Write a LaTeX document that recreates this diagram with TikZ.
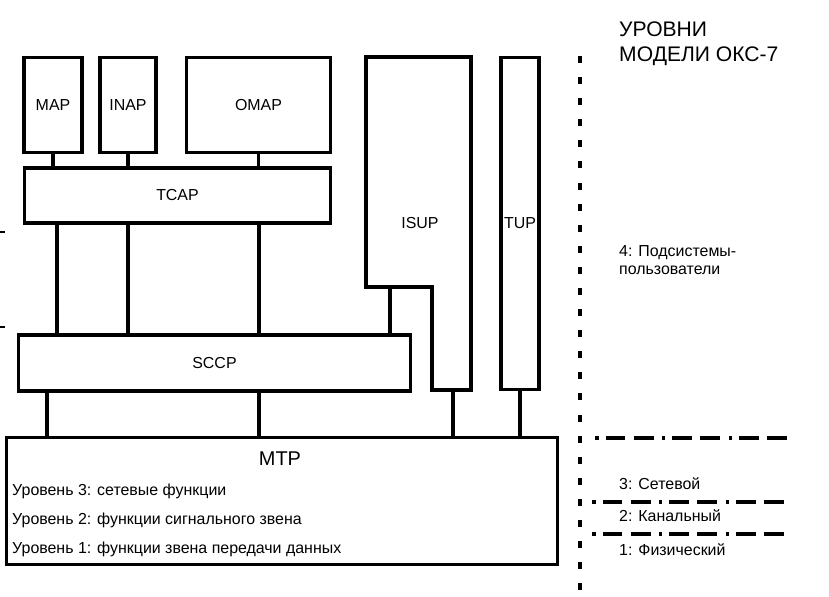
\documentclass[tikz,border=0pt]{standalone}
\usepackage{fontspec}
\setmainfont{Liberation Sans}
\begin{document}
\begin{tikzpicture}[x=0.03cm,y=-0.03cm,
  blk/.style={draw,line width=2.8pt,inner sep=0pt},
  con/.style={line width=2.8pt},
  lbl/.style={font=\fontsize{13.6}{16}\selectfont,inner sep=0pt},
  lvl/.style={font=\fontsize{13.6}{16}\selectfont,inner sep=0pt,anchor=west,align=left},
  ddot/.style={line width=2.6pt,dash pattern=on 3pt off 6pt on 17pt off 7pt on 17pt off 7pt}]
\useasboundingbox (0,0) rectangle (829,597);
% top boxes
\node[blk,minimum width=58*0.85pt,minimum height=96*0.85pt] (map) at (53,105) {};
\node[lbl] at (map) {MAP};
\node[blk,minimum width=56*0.85pt,minimum height=96*0.85pt] (inap) at (128,105) {};
\node[lbl] at (inap) {INAP};
\node[blk,minimum width=145*0.85pt,minimum height=96*0.85pt] (omap) at (258.5,105) {};
\node[lbl] at (omap) {OMAP};
\node[blk,minimum width=307*0.85pt,minimum height=55*0.85pt] (tcap) at (177.5,195.5) {};
\node[lbl] at (tcap) {TCAP};
\node[blk,minimum width=393*0.85pt,minimum height=56*0.85pt] (sccp) at (214.5,363) {};
\node[lbl] at (sccp) {SCCP};
\node[blk,minimum width=38*0.85pt,minimum height=333*0.85pt] (tup) at (520,223.5) {};
\node[lbl] at (tup) {TUP};
\node[blk,minimum width=554*0.85pt,minimum height=128*0.85pt] (mtp) at (282,501) {};
\node[font=\fontsize{17}{20}\selectfont,inner sep=0pt] (mtpl) at (280,459) {MTP};
% ISUP polygon
\draw[con,line join=miter] (366,57) coordinate (i1) -- (471,57) -- (471,390) -- (432,390) -- (432,287) -- (366,287) -- cycle;
\node[lbl] (isup) at (420,223) {ISUP};
\coordinate (isb) at (390,287);
\coordinate (isr) at (453,390);
% connectors
\draw[con] (map.south) -- (tcap.north -| map.south);
\draw[con] (inap.south) -- (tcap.north -| inap.south);
\draw[con] (omap.south) -- (tcap.north -| omap.south);
\draw[con] (tcap.south -| 57,0) -- (sccp.north -| 57,0);
\draw[con] (tcap.south -| 128,0) -- (sccp.north -| 128,0);
\draw[con] (tcap.south -| 259,0) -- (sccp.north -| 259,0);
\draw[con] (isb) -- (sccp.north -| isb);
\draw[con] (sccp.south -| 47,0) -- (mtp.north -| 47,0);
\draw[con] (sccp.south -| 259,0) -- (mtp.north -| 259,0);
\draw[con] (isr) -- (mtp.north -| isr);
\draw[con] (tup.south) -- (mtp.north -| tup.south);
% MTP levels
\node[lvl] at (12,491) {Уровень 3: сетевые функции};
\node[lvl] at (12,520) {Уровень 2: функции сигнального звена};
\node[lvl] at (12,549) {Уровень 1: функции звена передачи данных};
% ticks
\draw[line width=1pt] (0,232) -- (5,232);
\draw[line width=1pt] (0,327) -- (5,327);
% separator
\draw[line width=3.4pt,dash pattern=on 6pt off 12pt] (580,56) -- (580,592);
\draw[ddot] (595,438) -- (790,438);
\draw[ddot] (592,502) -- (790,502);
\draw[ddot] (592,534) -- (790,534);
% right labels
\node[lvl,font=\fontsize{18}{21}\selectfont] at (619,44) {УРОВНИ\\МОДЕЛИ ОКС-7};
\node[lvl] at (619,260) {4: Подсистемы-\\пользователи};
\node[lvl] at (619,484) {3: Сетевой};
\node[lvl] at (619,516) {2: Канальный};
\node[lvl] at (619,550) {1: Физический};
\end{tikzpicture}
\end{document}
